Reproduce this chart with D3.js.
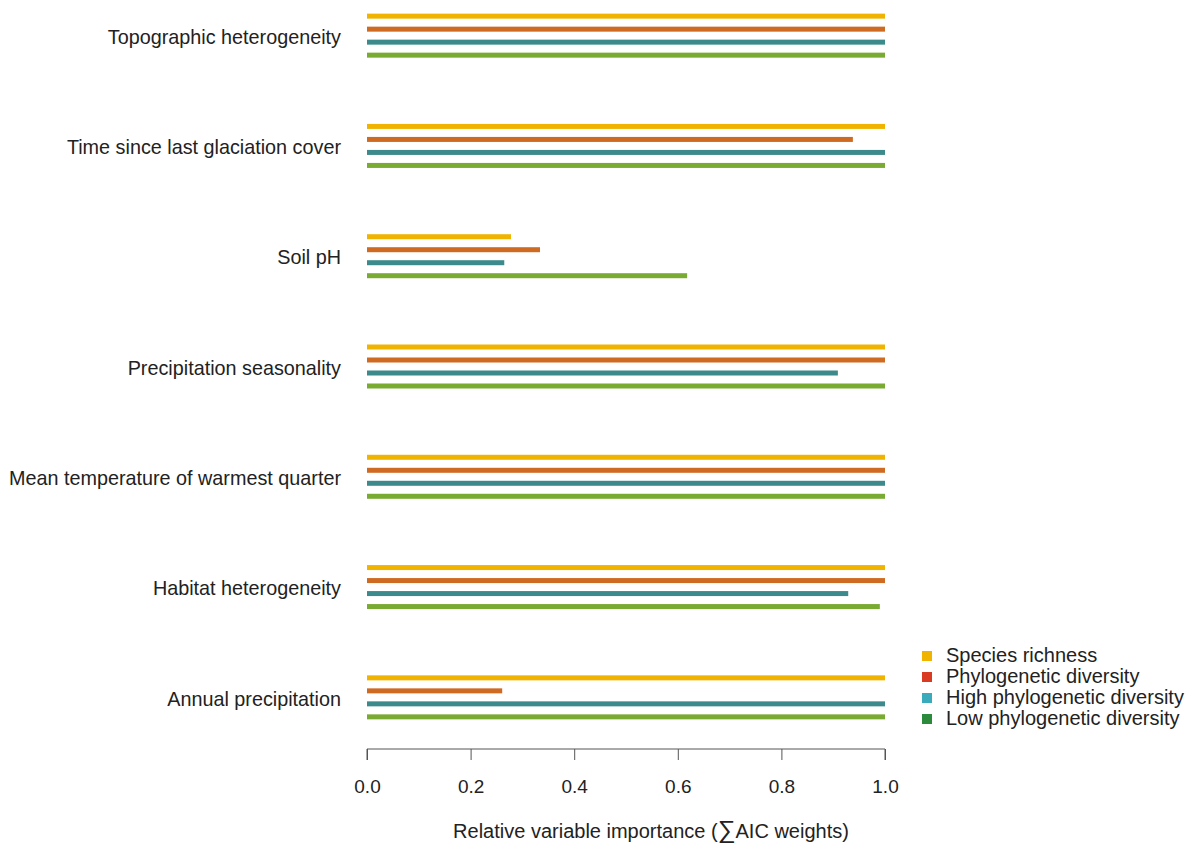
<!DOCTYPE html>
<html>
<head>
<meta charset="utf-8">
<script src="https://cdn.jsdelivr.net/npm/d3@7"></script>
<style>
  body { margin: 0; background: #fff; }
  text { font-family: "Liberation Sans", Arial, sans-serif; fill: #222; }
</style>
</head>
<body>
<svg id="chart" width="1197" height="843"></svg>
<script>
// predictors, top to bottom
const variables = [
    "Topographic heterogeneity",
    "Time since last glaciation cover",
    "Soil pH",
    "Precipitation seasonality",
    "Mean temperature of warmest quarter",
    "Habitat heterogeneity",
    "Annual precipitation"
];
const seriesNames = ["Species richness", "Phylogenetic diversity", "High phylogenetic diversity", "Low phylogenetic diversity"];
const speciesRichness = [1.0, 1.0, 0.278, 1.0, 1.0, 1.0, 1.0];
const phyloDiversity = [1.0, 0.938, 0.334, 1.0, 1.0, 1.0, 0.261];
const highPhylo = [1.0, 1.0, 0.265, 0.909, 1.0, 0.929, 1.0];
const lowPhylo = [1.0, 1.0, 0.618, 1.0, 1.0, 0.99, 1.0];
const xTicks = [0, 0.2, 0.4, 0.6, 0.8, 1.0];

const barColors = ["#f0b300", "#cf6a22", "#3c8a8c", "#79aa31"];
const legendColors = ["#f0b400", "#d83b22", "#3aabbb", "#2b8a3c"];

const svg = d3.select("#chart");
const allSeries = [speciesRichness, phyloDiversity, highPhylo, lowPhylo];

const x = d3.scaleLinear().domain([0, 1]).range([367, 885]);
const yGroup = d3.scaleBand().domain(variables).range([-19.5, 752.5]).padding(0);
const yInner = d3.scaleBand().domain(d3.range(4)).range([0, 52]);

const groups = svg.selectAll("g.grp")
    .data(variables)
    .join("g")
    .attr("class", "grp")
    .attr("transform", d => `translate(0,${yGroup(d) + yGroup.bandwidth() / 2 - 26})`);

groups.each(function(v, i) {
    d3.select(this).selectAll("rect")
        .data(allSeries.map((s, k) => ({ k, value: s[i] })))
        .join("rect")
        .attr("x", x(0))
        .attr("y", d => yInner(d.k) + 6.5 - 2.5)
        .attr("width", d => x(d.value) - x(0))
        .attr("height", 5)
        .attr("fill", d => barColors[d.k]);
});

// category labels
svg.selectAll("text.cat")
    .data(variables)
    .join("text")
    .attr("class", "cat")
    .attr("x", 341)
    .attr("y", d => yGroup(d) + yGroup.bandwidth() / 2 + 3)
    .attr("text-anchor", "end")
    .attr("dominant-baseline", "middle")
    .style("font-size", "19.8px")
    .text(d => d);

// x axis
const axis = svg.append("g")
    .attr("transform", "translate(0,749)")
    .call(d3.axisBottom(x).tickValues(xTicks).tickSize(11).tickPadding(20).tickFormat(d3.format(".1f")));
axis.select(".domain").attr("stroke", "#555").attr("d", `M${x(0)},11V0H${x(1)}V11`);
axis.selectAll(".tick line").attr("stroke", "#555");
axis.selectAll(".tick text").style("font-size", "19px").attr("fill", "#222");

svg.append("text")
    .attr("x", 651)
    .attr("y", 838)
    .attr("text-anchor", "middle")
    .style("font-size", "20px")
    .html("Relative variable importance (<tspan style='font-size:25px'>∑</tspan>AIC weights)");

// legend
const legend = svg.append("g").attr("transform", "translate(922,646)");
const li = legend.selectAll("g")
    .data(seriesNames)
    .join("g")
    .attr("transform", (d, i) => `translate(0,${i * 21})`);
li.append("rect")
    .attr("x", 0).attr("y", 5).attr("width", 10).attr("height", 10)
    .attr("fill", (d, i) => legendColors[i]);
li.append("text")
    .attr("x", 24).attr("y", 11)
    .attr("dominant-baseline", "middle")
    .style("font-size", "20px")
    .text(d => d);
</script>
</body>
</html>
